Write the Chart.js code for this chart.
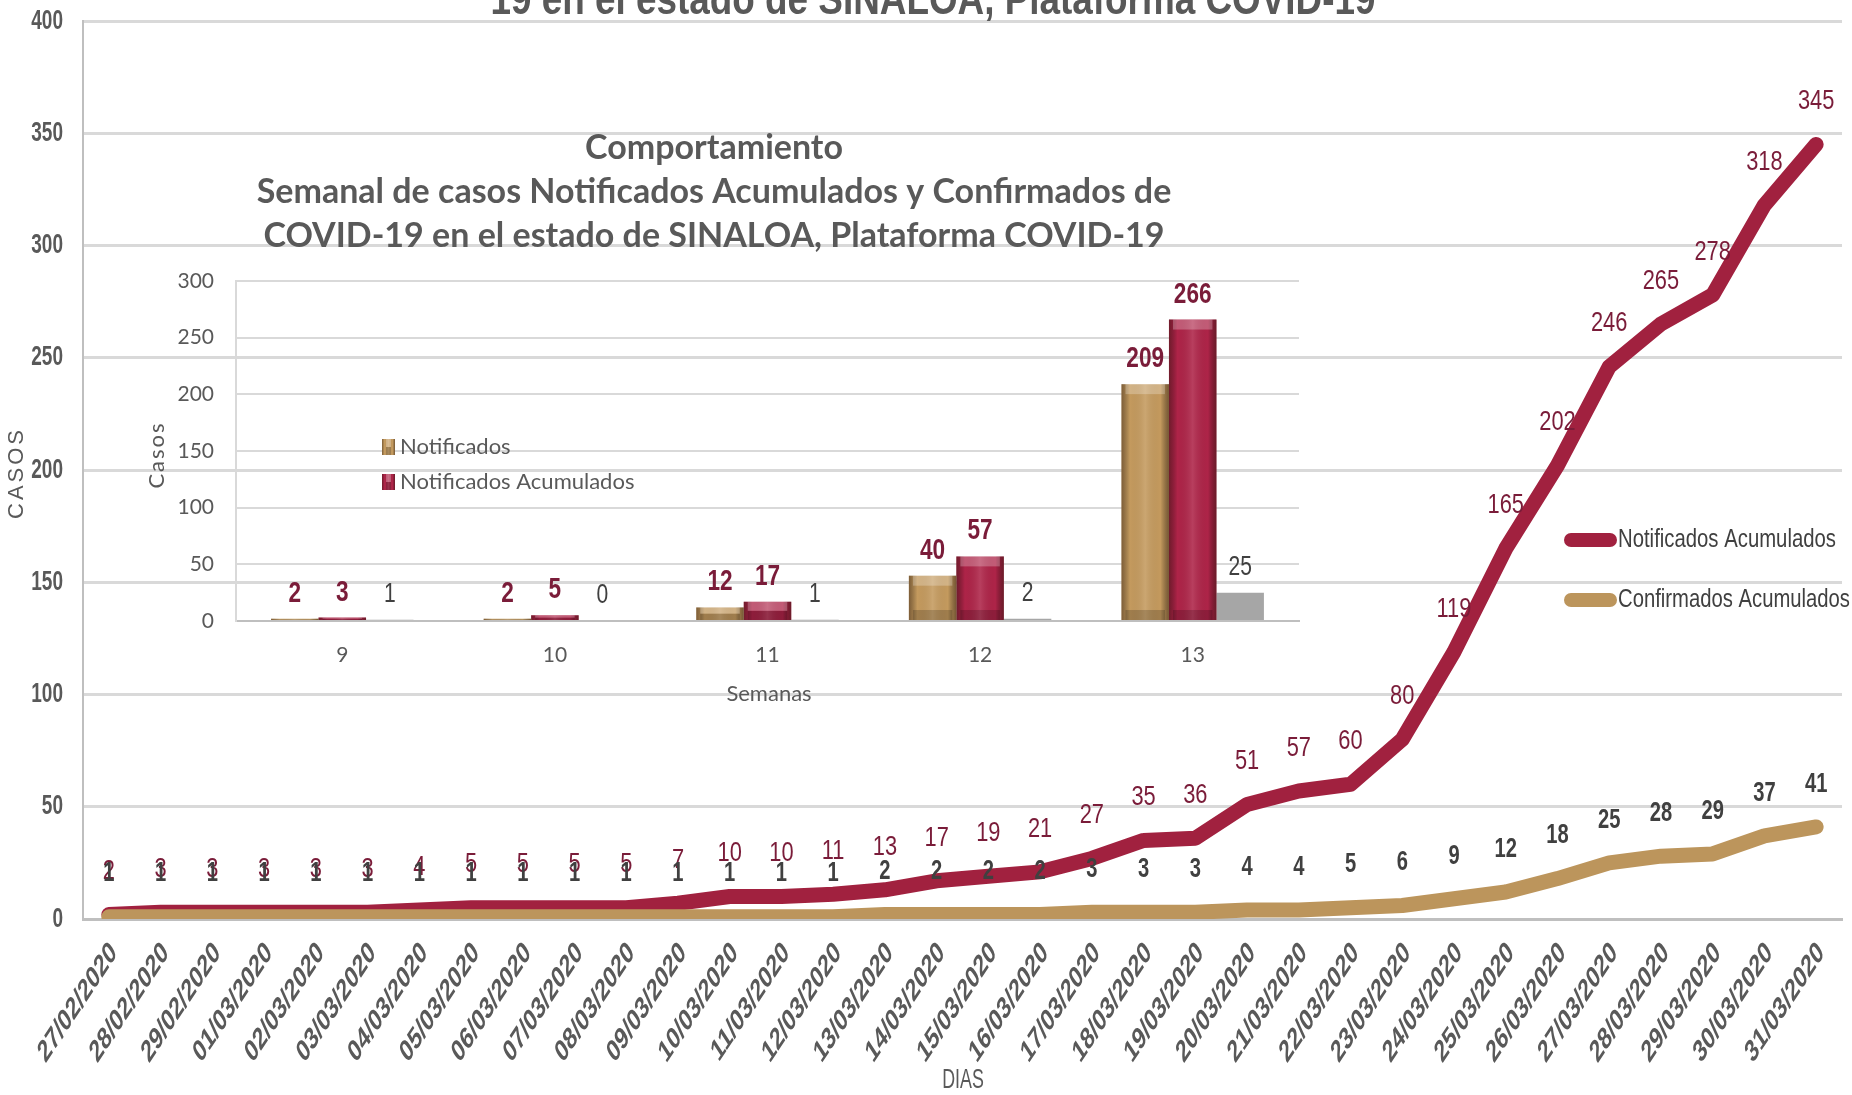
<!DOCTYPE html>
<html lang="es">
<head>
<meta charset="utf-8">
<title>COVID-19 Sinaloa</title>
<script src="https://cdn.jsdelivr.net/npm/chart.js@4.4.1/dist/chart.umd.min.js"></script>
<style>
  html, body { margin:0; padding:0; background:#fff; }
  #wrap { position:relative; width:1852px; height:1095px; overflow:hidden; background:#fff; }
  #wrap canvas { position:absolute; left:0; top:0; }
</style>
</head>
<body>
<div id="wrap">
  <canvas id="main" width="1852" height="1095"></canvas>
  <canvas id="inset" width="1852" height="1095"></canvas>
</div>
<script>
// ---- data: daily cumulative series (main line chart) ----
const DIAS = ["27/02/2020","28/02/2020","29/02/2020","01/03/2020","02/03/2020","03/03/2020",
  "04/03/2020","05/03/2020","06/03/2020","07/03/2020","08/03/2020","09/03/2020","10/03/2020",
  "11/03/2020","12/03/2020","13/03/2020","14/03/2020","15/03/2020","16/03/2020","17/03/2020",
  "18/03/2020","19/03/2020","20/03/2020","21/03/2020","22/03/2020","23/03/2020","24/03/2020",
  "25/03/2020","26/03/2020","27/03/2020","28/03/2020","29/03/2020","30/03/2020","31/03/2020"];
const NOTIFICADOS_ACUM = [2,3,3,3,3,3,4,5,5,5,5,7,10,10,11,13,17,19,21,27,35,36,51,57,60,80,
  119,165,202,246,265,278,318,345];
const CONFIRMADOS_ACUM = [1,1,1,1,1,1,1,1,1,1,1,1,1,1,1,2,2,2,2,3,3,3,4,4,5,6,9,12,18,25,28,29,37,41];

// ---- data: weekly bars (inset chart) ----
const SEMANAS = ["9","10","11","12","13"];
const SEM_NOTIFICADOS = [2,2,12,40,209];
const SEM_NOTIF_ACUM  = [3,5,17,57,266];
const SEM_CONFIRMADOS = [1,0,1,2,25];

// ---- colours / fonts ----
const MAROON = "#A1213F";
const TAN    = "#BC955C";
const LBL_MAROON = "#7A1C39";
const GRAY_TXT = "#595959";
const DARK_TXT = "#404040";
const GRID = "#D9D9D9";
const SANS = "'Liberation Sans', Arial, sans-serif";
const LATO = "Lato, 'Open Sans', sans-serif";

// text helper: sx squeezes the glyphs sideways (the original picture is narrow),
// rot rotates after the squeeze
function sText(ctx, s, x, y, font, color, opt){
  const o = opt || {};
  ctx.save();
  ctx.translate(x, y);
  ctx.font = font; ctx.fillStyle = color;
  let sx = o.sx || 1;
  if (o.fit) sx = o.fit / ctx.measureText(s).width;   // squeeze to a given width
  ctx.scale(sx, 1);
  if (o.rot) ctx.rotate(o.rot);
  if (o.spacing) ctx.letterSpacing = o.spacing;
  ctx.textAlign = o.align || "center";
  ctx.textBaseline = o.base || "middle";
  ctx.fillText(s, 0, 0);
  ctx.restore();
}

// ---- main chart extras: ticks, value labels, titles, legend ----
const mainDecor = {
  id: "mainDecor",
  afterDatasetsDraw(chart){
    const ctx = chart.ctx;
    const notif = chart.getDatasetMeta(1).data;
    const conf  = chart.getDatasetMeta(0).data;
    notif.forEach((p, i) => sText(ctx, String(NOTIFICADOS_ACUM[i]), p.x, p.y - 43,
      "28px " + SANS, LBL_MAROON, { sx: 0.78 }));
    conf.forEach((p, i) => sText(ctx, String(CONFIRMADOS_ACUM[i]), p.x, p.y - 43,
      "bold 28px " + SANS, DARK_TXT, { sx: 0.72 }));
  },
  afterDraw(chart){
    const ctx = chart.ctx;
    const xs = chart.scales.x, ys = chart.scales.y;

    // y tick labels
    ys.ticks.forEach(t => sText(ctx, String(t.value), 63, ys.getPixelForValue(t.value),
      "bold 28px " + SANS, GRAY_TXT, { sx: 0.68, align: "right" }));
    // x tick labels, squeezed after a 45° turn like the original
    DIAS.forEach((d, i) => sText(ctx, d, xs.getPixelForTick(i) + 5, 948,
      "bold 31px " + SANS, GRAY_TXT, { sx: 0.66, rot: -Math.PI/4, align: "right" }));

    // top title, only its last line shows in the picture
    sText(ctx, "19 en el estado de SINALOA, Plataforma COVID-19", 933, 14,
      "bold 44px " + SANS, GRAY_TXT, { fit: 885, base: "alphabetic" });
    // axis titles
    sText(ctx, "DIAS", 963, 1081, "27px " + SANS, GRAY_TXT, { sx: 0.66 });
    sText(ctx, "CASOS", 17, 473, "22px " + SANS, GRAY_TXT, { rot: -Math.PI/2, spacing: "3px" });

    // legend inside plot
    const items = [["Notificados Acumulados", MAROON, 540, 218], ["Confirmados Acumulados", TAN, 600, 232]];
    items.forEach(([name, col, y, w]) => {
      ctx.save();
      ctx.strokeStyle = col; ctx.lineWidth = 14; ctx.lineCap = "round";
      ctx.beginPath(); ctx.moveTo(1571, y); ctx.lineTo(1610, y); ctx.stroke();
      ctx.restore();
      sText(ctx, name, 1618, y, "26px " + SANS, DARK_TXT, { fit: w, align: "left" });
    });
  }
};

const lineDs = (label, data, color) => ({
  label, data, borderColor: color, backgroundColor: color, borderWidth: 15,
  pointRadius: 0, tension: 0, borderCapStyle: "round", borderJoinStyle: "round",
  clip: { left: 30, top: 30, right: 30, bottom: 0 }
});

new Chart(document.getElementById("main"), {
  type: "line",
  data: {
    labels: DIAS,
    datasets: [
      lineDs("Confirmados Acumulados", CONFIRMADOS_ACUM, TAN),   // index 0 is drawn on top
      lineDs("Notificados Acumulados", NOTIFICADOS_ACUM, MAROON)
    ]
  },
  options: {
    responsive: false, animation: false, devicePixelRatio: 1,
    layout: { padding: { top: 21, right: 10, left: 0, bottom: 0 } },
    plugins: { legend: { display: false }, tooltip: { enabled: false } },
    scales: {
      x: {
        offset: true,
        grid: { display: false },
        border: { color: "#BFBFBF", width: 3 },
        ticks: { display: false, autoSkip: false },
        afterFit(s){ s.height = 176; }
      },
      y: {
        min: 0, max: 400,
        ticks: { display: false, stepSize: 50 },
        grid: { color: GRID, lineWidth: 3, drawTicks: false },
        border: { color: "#BFBFBF", width: 2 },
        afterFit(s){ s.width = 83; }
      }
    }
  },
  plugins: [mainDecor]
});

// ---- inset chart extras: bevel shading, labels, legend, titles ----
const BAR_TAN = "#C49A5E";
const BAR_MAROON = "#AE2448";

function bevel(ctx, b){
  const w = b.width, left = b.x - w/2, top = b.y, h = b.base - b.y;
  if (h <= 0) return;
  const g = ctx.createLinearGradient(left, 0, left + w, 0);
  g.addColorStop(0, "rgba(40,20,10,0.45)");
  g.addColorStop(0.18, "rgba(0,0,0,0)");
  g.addColorStop(0.5, "rgba(255,255,255,0.12)");
  g.addColorStop(0.82, "rgba(0,0,0,0)");
  g.addColorStop(1, "rgba(40,20,10,0.5)");
  ctx.fillStyle = g;
  ctx.fillRect(left, top, w, h);
  const bh = Math.min(10, h/2);
  ctx.fillStyle = "rgba(255,255,255,0.25)";
  ctx.fillRect(left + 4, top, w - 8, bh);
  ctx.fillStyle = "rgba(0,0,0,0.18)";
  ctx.fillRect(left + 4, b.base - bh, w - 8, bh);
}

const insetDecor = {
  id: "insetDecor",
  afterDatasetsDraw(chart){
    const ctx = chart.ctx;
    [0, 1].forEach(d => chart.getDatasetMeta(d).data.forEach(b => bevel(ctx, b)));
    const sets = [
      [SEM_NOTIFICADOS, "bold 29px " + SANS, LBL_MAROON],
      [SEM_NOTIF_ACUM,  "bold 29px " + SANS, LBL_MAROON],
      [SEM_CONFIRMADOS, "27px " + SANS, DARK_TXT]
    ];
    sets.forEach(([vals, font, col], d) => {
      chart.getDatasetMeta(d).data.forEach((b, i) =>
        sText(ctx, String(vals[i]), b.x, b.y - 25, font, col, { sx: 0.78 }));
    });
  },
  afterDraw(chart){
    const ctx = chart.ctx;
    const tf = "bold 34px " + LATO;
    sText(ctx, "Comportamiento", 714, 148, tf, GRAY_TXT);
    sText(ctx, "Semanal de casos Notificados Acumulados y Confirmados de", 714, 192, tf, GRAY_TXT);
    sText(ctx, "COVID-19 en el estado de SINALOA, Plataforma COVID-19", 714, 236, tf, GRAY_TXT);
    sText(ctx, "Semanas", 769, 694, "22px " + LATO, GRAY_TXT);
    sText(ctx, "Casos", 157, 455, "22px " + LATO, GRAY_TXT, { rot: -Math.PI/2, spacing: "2px" });
    // legend
    [["Notificados", BAR_TAN, 447], ["Notificados Acumulados", BAR_MAROON, 482]].forEach(([n, c, y]) => {
      ctx.fillStyle = c;
      ctx.fillRect(382, y - 8, 13, 16);
      bevel(ctx, { x: 388.5, y: y - 8, width: 13, base: y + 8 });
      sText(ctx, n, 400, y, "22px " + LATO, GRAY_TXT, { align: "left" });
    });
  }
};

new Chart(document.getElementById("inset"), {
  type: "bar",
  data: {
    labels: SEMANAS,
    datasets: [
      { label: "Notificados", data: SEM_NOTIFICADOS, backgroundColor: BAR_TAN },
      { label: "Notificados Acumulados", data: SEM_NOTIF_ACUM, backgroundColor: BAR_MAROON },
      { label: "Confirmados", data: SEM_CONFIRMADOS, backgroundColor: "#A6A6A6" }
    ]
  },
  options: {
    responsive: false, animation: false, devicePixelRatio: 1,
    layout: { padding: { left: 176, right: 553, top: 281, bottom: 414 } },
    datasets: { bar: { categoryPercentage: 0.67, barPercentage: 1 } },
    plugins: { legend: { display: false }, tooltip: { enabled: false } },
    scales: {
      x: {
        grid: { display: false },
        border: { color: "#BFBFBF", width: 2 },
        ticks: { padding: 14, color: GRAY_TXT, font: { family: LATO, size: 21 } },
        afterFit(s){ s.height = 60; }
      },
      y: {
        min: 0, max: 300,
        ticks: { stepSize: 50, padding: 22, color: GRAY_TXT, font: { family: LATO, size: 21 } },
        grid: { color: GRID, lineWidth: 2, drawTicks: false },
        border: { color: GRID, width: 2 },
        afterFit(s){ s.width = 60; }
      }
    }
  },
  plugins: [insetDecor]
});
</script>
</body>
</html>
